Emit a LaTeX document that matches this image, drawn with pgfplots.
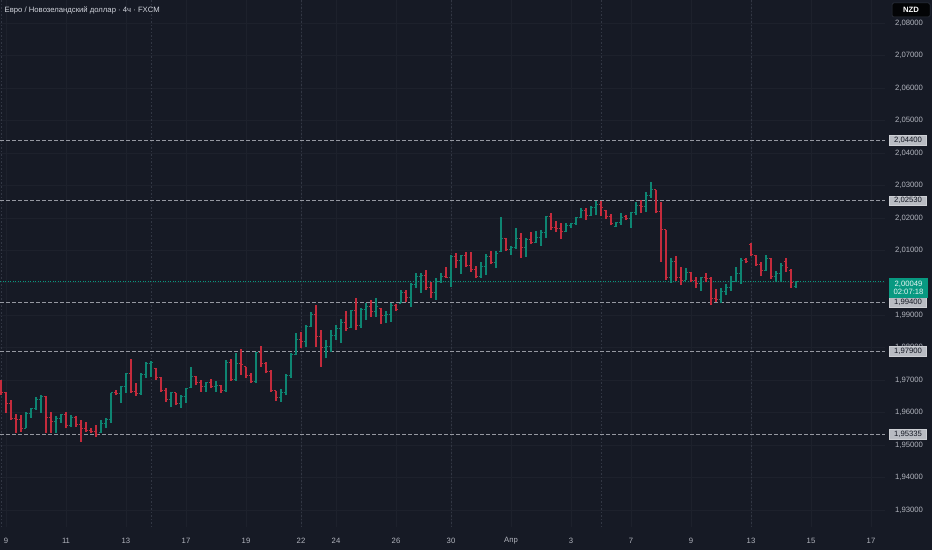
\documentclass[border=0pt]{standalone}
\usepackage{pgfplots}
\pgfplotsset{compat=1.18}
\usepackage{pgfplotstable}
\usepackage{fontspec}
\setmainfont{Liberation Sans}
\definecolor{bg}{HTML}{161A25}
\definecolor{gridc}{HTML}{1D212C}
\definecolor{sepc}{HTML}{323744}
\definecolor{txt}{HTML}{B2B5BE}
\definecolor{upc}{HTML}{0E8572}
\definecolor{dnc}{HTML}{C42B3C}
\definecolor{tealbox}{HTML}{089981}
\definecolor{lvl}{HTML}{9598A1}
\definecolor{lbl}{HTML}{B8BBC2}
\definecolor{dark}{HTML}{131722}
\newcommand\tvfont{\fontsize{7.7}{9.2}\selectfont}

\pgfplotstableread{
x o h l c
26 1.95528 1.96021 1.95528 1.95960
31 1.95960 1.96145 1.95836 1.96114
36 1.96114 1.96484 1.96083 1.96391
41 1.96391 1.96545 1.95991 1.96484
56 1.95713 1.95898 1.95374 1.95806
61 1.95806 1.95960 1.95682 1.95929
71 1.95590 1.95929 1.95559 1.95867
101 1.95374 1.95775 1.95374 1.95682
106 1.95682 1.95836 1.95528 1.95775
111 1.95775 1.96607 1.95682 1.96607
121 1.96576 1.96823 1.96299 1.96792
126 1.96792 1.97223 1.96607 1.97223
141 1.96576 1.97223 1.96545 1.97162
146 1.97162 1.97562 1.97069 1.97531
151 1.97531 1.97593 1.97100 1.97562
171 1.96391 1.96638 1.96175 1.96607
181 1.96268 1.96545 1.96145 1.96514
186 1.96514 1.96761 1.96299 1.96730
191 1.96761 1.97408 1.96761 1.97100
206 1.96792 1.96946 1.96638 1.96915
216 1.96792 1.96977 1.96638 1.96823
226 1.96699 1.97624 1.96638 1.97562
236 1.97008 1.97840 1.96977 1.97531
256 1.96946 1.97870 1.96915 1.97840
281 1.96453 1.96730 1.96330 1.96607
286 1.96607 1.97192 1.96545 1.97131
291 1.97131 1.97840 1.97069 1.97778
296 1.97778 1.98456 1.97778 1.98240
306 1.98179 1.98702 1.98024 1.98641
311 1.98641 1.99103 1.98641 1.99041
326 1.98024 1.98240 1.97685 1.98055
331 1.98055 1.98548 1.97870 1.98394
336 1.98394 1.98702 1.98240 1.98579
341 1.98579 1.98887 1.98148 1.98764
351 1.98610 1.99165 1.98610 1.99134
361 1.98702 1.99226 1.98610 1.99165
366 1.99165 1.99380 1.98857 1.99257
376 1.99103 1.99534 1.98949 1.99257
386 1.98980 1.99134 1.98764 1.99011
391 1.99011 1.99380 1.98795 1.99288
401 1.99380 1.99781 1.99380 1.99719
411 1.99565 1.99997 1.99257 1.99935
416 1.99935 2.00305 1.99843 2.00182
421 2.00182 2.00305 1.99689 2.00243
436 1.99689 2.00151 1.99473 2.00058
441 2.00058 2.00305 1.99997 2.00212
451 2.00151 2.00859 1.99873 2.00798
461 2.00675 2.00859 2.00274 2.00829
481 2.00212 2.00644 2.00151 2.00490
486 2.00490 2.00890 2.00243 2.00798
496 2.00613 2.00983 2.00459 2.00921
501 2.00952 2.02031 2.00952 2.01383
511 2.01014 2.01137 2.00859 2.01106
516 2.01106 2.01691 2.01044 2.01383
526 2.01106 2.01383 2.00798 2.01322
536 2.01260 2.01599 2.01229 2.01414
541 2.01414 2.01630 2.01137 2.01568
546 2.01568 2.02061 2.01383 2.02031
566 2.01599 2.01846 2.01568 2.01784
571 2.01784 2.01846 2.01691 2.01815
576 2.01815 2.02031 2.01784 2.02000
581 2.02000 2.02308 2.02000 2.02246
591 2.02092 2.02370 2.02061 2.02308
596 2.02308 2.02524 2.02092 2.02431
616 2.01753 2.01876 2.01722 2.01846
621 2.01846 2.02154 2.01784 2.02000
631 2.01969 2.02185 2.01691 2.02154
636 2.02154 2.02493 2.02092 2.02370
646 2.02339 2.02801 2.02185 2.02678
651 2.02678 2.03109 2.02616 2.02863
671 2.00151 2.00767 1.99997 2.00644
686 2.00089 2.00459 2.00089 2.00305
701 1.99966 2.00182 1.99750 2.00151
721 1.99473 1.99843 1.99380 1.99750
726 1.99750 1.99966 1.99627 1.99873
731 1.99873 2.00212 1.99750 2.00058
736 2.00058 2.00490 2.00028 2.00274
741 2.00274 2.00767 1.99966 2.00675
766 2.00397 2.00859 2.00367 2.00767
776 2.00182 2.00367 2.00028 2.00274
781 2.00274 2.00613 2.00028 2.00521
796 1.99904 2.00058 1.99843 2.00049
}\up

\pgfplotstableread{
x o h l c
1 1.96946 1.97008 1.96545 1.96607
6 1.96607 1.96638 1.95991 1.96268
11 1.96268 1.96391 1.95775 1.95836
16 1.95836 1.95960 1.95374 1.95775
21 1.95775 1.95929 1.95405 1.95528
46 1.96484 1.96514 1.95374 1.95867
51 1.95867 1.96021 1.95374 1.95713
66 1.95929 1.96021 1.95528 1.95590
76 1.95867 1.95898 1.95559 1.95621
81 1.95621 1.95775 1.95097 1.95528
86 1.95528 1.95713 1.95405 1.95436
91 1.95436 1.95528 1.95374 1.95405
96 1.95405 1.95621 1.95251 1.95343
116 1.96607 1.96699 1.96545 1.96576
131 1.97223 1.97655 1.96607 1.96638
136 1.96638 1.96915 1.96514 1.96576
156 1.97377 1.97377 1.97008 1.97069
161 1.97069 1.97100 1.96638 1.96669
166 1.96669 1.96761 1.96330 1.96391
176 1.96607 1.96607 1.96237 1.96268
196 1.97100 1.97131 1.96853 1.96915
201 1.96915 1.97008 1.96638 1.96792
211 1.96915 1.97038 1.96761 1.96792
221 1.96823 1.96853 1.96607 1.96699
231 1.97562 1.97655 1.96977 1.97008
241 1.97531 1.97963 1.97162 1.97470
246 1.97408 1.97408 1.97069 1.97131
251 1.97131 1.97223 1.96915 1.96946
261 1.97840 1.98055 1.97408 1.97531
266 1.97531 1.97562 1.97223 1.97254
271 1.97254 1.97316 1.96638 1.96669
276 1.96669 1.96669 1.96360 1.96453
301 1.98240 1.98487 1.97994 1.98179
316 1.99041 1.99319 1.98024 1.98363
321 1.98363 1.98548 1.97408 1.98024
346 1.98764 1.99134 1.98518 1.98579
356 1.99134 1.99534 1.98548 1.98702
371 1.99257 1.99473 1.98949 1.99103
381 1.99226 1.99226 1.98733 1.98980
396 1.99288 1.99350 1.99134 1.99195
406 1.99719 1.99781 1.99411 1.99565
426 2.00243 2.00397 1.99781 1.99843
431 1.99843 2.00028 1.99534 1.99689
446 2.00212 2.00490 2.00151 2.00151
456 2.00798 2.00921 2.00459 2.00675
466 2.00829 2.00952 2.00490 2.00551
471 2.00551 2.00952 2.00336 2.00428
476 2.00428 2.00521 2.00151 2.00212
491 2.00798 2.00983 2.00582 2.00613
506 2.01383 2.01383 2.00983 2.01014
521 2.01383 2.01537 2.00767 2.01106
531 2.01322 2.01568 2.01198 2.01260
551 2.02031 2.02154 2.01630 2.01722
556 2.01722 2.01907 2.01568 2.01691
561 2.01691 2.01846 2.01352 2.01599
586 2.02246 2.02308 2.01938 2.02092
601 2.02431 2.02524 2.02061 2.02308
606 2.02246 2.02246 2.01969 2.02061
611 2.02061 2.02123 2.01784 2.01815
626 2.02061 2.02092 2.01938 2.01969
641 2.02370 2.02555 2.02154 2.02339
656 2.02863 2.02863 2.02154 2.02185
661 2.02185 2.02493 2.00644 2.01630
666 2.01630 2.01630 2.00089 2.00151
676 2.00644 2.00829 2.00058 2.00151
681 2.00151 2.00490 1.99935 2.00089
691 2.00305 2.00336 2.00028 2.00089
696 2.00089 2.00182 1.99843 1.99966
706 2.00151 2.00305 2.00028 2.00120
711 2.00120 2.00182 1.99319 1.99534
716 1.99534 1.99812 1.99411 1.99473
746 2.00706 2.00767 2.00613 2.00644
751 2.01168 2.01229 2.00829 2.00890
756 2.00859 2.00859 2.00521 2.00582
761 2.00582 2.00644 2.00212 2.00397
771 2.00767 2.00767 2.00120 2.00182
786 2.00644 2.00767 2.00336 2.00459
791 2.00397 2.00428 1.99843 1.99997
}\dn

\begin{document}
\begin{tikzpicture}[x=1pt,y=1pt]
\useasboundingbox (0,0) rectangle (932,550);
\fill[bg] (0,0) rectangle (932,550);
\begin{axis}[
  at={(0pt,23pt)}, anchor=south west,
  scale only axis, width=885pt, height=527pt,
  xmin=0, xmax=885, ymin=1.92477, ymax=2.08718,
  axis line style={draw=none},
  major tick length=0pt,
  xtick={6,66,126,186,246,301,336,396,451,511,571,631,691,751,811,871},
  xticklabels={9,11,13,17,19,22,24,26,30,Апр,3,7,9,13,15,17},
  extra x ticks={1,151,301,451,601,751},
  extra x tick labels={},
  extra x tick style={grid=major, major grid style={color=sepc, dash pattern=on 1.5pt off 2pt, line width=0.8pt}},
  ytick={1.93,1.94,1.95,1.96,1.97,1.98,1.99,2.00,2.01,2.02,2.03,2.04,2.05,2.06,2.07,2.08},
  yticklabel pos=right,
  xmajorgrids, ymajorgrids,
  grid style={color=gridc, line width=0.8pt},
  ticklabel style={font=\tvfont, text=txt},
  xticklabel style={anchor=center, yshift=-14pt},
  yticklabel style={anchor=center, xshift=24pt,
    /pgf/number format/fixed, /pgf/number format/fixed zerofill,
    /pgf/number format/precision=5, /pgf/number format/use comma,
    /pgf/number format/assume math mode=true},
  scaled y ticks=false,
]
% level lines
\draw[lvl, dash pattern=on 3.5pt off 2.5pt, line width=0.9pt] (axis cs:0,2.044) -- (axis cs:885,2.044);
\draw[lvl, dash pattern=on 3.5pt off 2.5pt, line width=0.9pt] (axis cs:0,2.0253) -- (axis cs:885,2.0253);
\draw[lvl, dash pattern=on 3.5pt off 2.5pt, line width=0.9pt] (axis cs:0,1.994) -- (axis cs:885,1.994);
\draw[lvl, dash pattern=on 3.5pt off 2.5pt, line width=0.9pt] (axis cs:0,1.979) -- (axis cs:885,1.979);
\draw[lvl, dash pattern=on 3.5pt off 2.5pt, line width=0.9pt] (axis cs:0,1.95335) -- (axis cs:885,1.95335);
\draw[tealbox, dash pattern=on 1pt off 1.5pt, line width=0.8pt] (axis cs:0,2.00049) -- (axis cs:885,2.00049);
% bars
\addplot[dnc, line width=1.1pt, quiver={u=0, v=\thisrow{h}-\thisrow{l}}] table[x=x, y=l] {\dn};
\addplot[dnc, line width=1.0pt, quiver={u=-1.8, v=0}] table[x=x, y=o] {\dn};
\addplot[dnc, line width=1.0pt, quiver={u=1.8, v=0}] table[x=x, y=c] {\dn};
\addplot[upc, line width=1.1pt, quiver={u=0, v=\thisrow{h}-\thisrow{l}}] table[x=x, y=l] {\up};
\addplot[upc, line width=1.0pt, quiver={u=-1.8, v=0}] table[x=x, y=o] {\up};
\addplot[upc, line width=1.0pt, quiver={u=1.8, v=0}] table[x=x, y=c] {\up};
\coordinate (L1) at (axis cs:908,2.044);
\coordinate (L2) at (axis cs:908,2.0253);
\coordinate (L3) at (axis cs:908,1.994);
\coordinate (L4) at (axis cs:908,1.979);
\coordinate (L5) at (axis cs:908,1.95335);
\coordinate (LP) at (axis cs:908.5,2.00049);
\end{axis}
\tikzset{lvlbox/.style={fill=lbl, draw=lbl!70!white, line width=0.4pt, inner sep=0pt, minimum width=37pt, minimum height=9.5pt, font=\tvfont, text=dark}}
\node[lvlbox] at (L1) {2,04400};
\node[lvlbox] at (L2) {2,02530};
\node[lvlbox] at (L3) {1,99400};
\node[lvlbox] at (L4) {1,97900};
\node[lvlbox] at (L5) {1,95335};
\node[fill=tealbox, inner sep=0pt, minimum width=39pt, minimum height=20pt, align=center, font=\tvfont, text=white!90!tealbox, anchor=north] at ([yshift=3.5pt]LP) {2,00049\\[-1.5pt]02:07:18};
\node[fill=black!85!bg, draw=sepc, line width=0.5pt, rounded corners=1.5pt, minimum width=38pt, minimum height=14pt, inner sep=0pt, font=\tvfont\bfseries, text=white] at (911,540) {NZD};
\node[anchor=west, inner sep=0pt, font=\tvfont, text={rgb,255:red,209;green,212;blue,220}] at (4.5,540) {Евро / Новозеландский доллар · 4ч · FXCM};
\end{tikzpicture}
\end{document}
